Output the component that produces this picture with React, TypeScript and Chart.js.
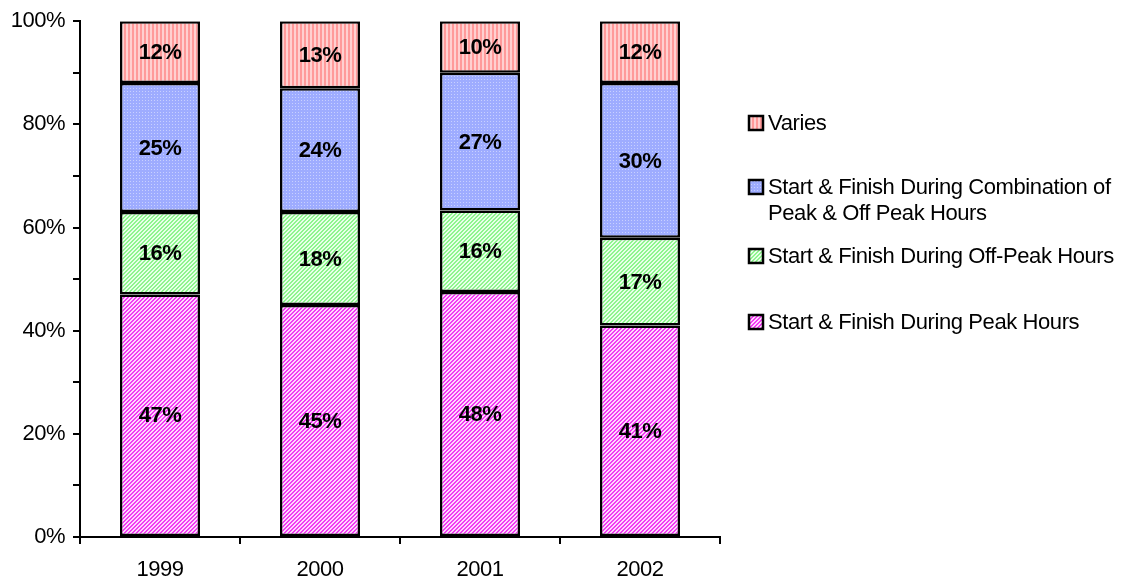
import React, { useEffect, useRef } from "react";
import { Chart, registerables } from "chart.js";

Chart.register(...registerables);

const years = ["1999", "2000", "2001", "2002"];
const peak = [47, 45, 47.5, 41];
const offPeak = [16, 18, 15.8, 17];
const combination = [25, 24, 26.7, 30];
const varies = [12, 13, 10, 12];
const yTickLabels = ["0%", "20%", "40%", "60%", "80%", "100%"];
const legendLabels = [
  ["Varies"],
  ["Start & Finish During Combination of", "Peak & Off Peak Hours"],
  ["Start & Finish During Off-Peak Hours"],
  ["Start & Finish During Peak Hours"],
];

const FONT = "'Liberation Sans', Arial, sans-serif";

function makePattern(kind: string): CanvasPattern | string {
  const c = document.createElement("canvas");
  const ctx = c.getContext("2d")!;
  if (kind === "peak") {
    c.width = 4; c.height = 4;
    for (let x = 0; x < 4; x++) for (let y = 0; y < 4; y++) {
      ctx.fillStyle = (x + y) % 4 < 2 ? "#f23cf2" : "#ffd6ff";
      ctx.fillRect(x, y, 1, 1);
    }
  } else if (kind === "off") {
    c.width = 4; c.height = 4;
    for (let x = 0; x < 4; x++) for (let y = 0; y < 4; y++) {
      ctx.fillStyle = (x + y) % 4 < 2 ? "#8ef58e" : "#e8ffe8";
      ctx.fillRect(x, y, 1, 1);
    }
  } else if (kind === "comb") {
    c.width = 3; c.height = 3;
    ctx.fillStyle = "#9eacff"; ctx.fillRect(0, 0, 3, 3);
    ctx.fillStyle = "#c8d0ff"; ctx.fillRect(1, 1, 1, 1);
  } else {
    c.width = 4; c.height = 1;
    ctx.fillStyle = "#ff9a9a"; ctx.fillRect(0, 0, 2, 1);
    ctx.fillStyle = "#ffd0d0"; ctx.fillRect(2, 0, 2, 1);
  }
  return ctx.createPattern(c, "repeat") || "#ccc";
}

export default function App() {
  const ref = useRef<HTMLCanvasElement>(null);
  useEffect(() => {
    const pPeak = makePattern("peak");
    const pOff = makePattern("off");
    const pComb = makePattern("comb");
    const pVar = makePattern("var");
    const fills = [pVar, pComb, pOff, pPeak];

    const spacingPlugin = {
      id: "spacing",
      beforeDraw(chart: any) {
        (chart.ctx as any).letterSpacing = "-0.5px";
      },
    };

    const labelsPlugin = {
      id: "barLabels",
      afterDatasetsDraw(chart: any) {
        const ctx = chart.ctx;
        ctx.save();
        ctx.letterSpacing = "-0.5px";
        ctx.font = `bold 22px ${FONT}`;
        ctx.fillStyle = "#000";
        ctx.textAlign = "center";
        ctx.textBaseline = "middle";
        chart.data.datasets.forEach((ds: any, di: number) => {
          const meta = chart.getDatasetMeta(di);
          meta.data.forEach((bar: any, i: number) => {
            const v = ds.data[i];
            const y = (bar.y + bar.base) / 2;
            ctx.fillText(Math.round(v) + "%", bar.x, y + 1);
          });
        });
        ctx.restore();
      },
    };

    const legendPlugin = {
      id: "customLegend",
      afterDraw(chart: any) {
        const ctx = chart.ctx;
        ctx.save();
        ctx.letterSpacing = "-0.4px";
        ctx.font = `22px ${FONT}`;
        ctx.textBaseline = "middle";
        ctx.textAlign = "left";
        const ys = [123, 187, 256, 322];
        legendLabels.forEach((lines, i) => {
          const y = ys[i];
          ctx.fillStyle = fills[i];
          ctx.fillRect(749, y - 7, 14, 14);
          ctx.strokeStyle = "#000";
          ctx.lineWidth = 2.5;
          ctx.strokeRect(749, y - 7, 14, 14);
          ctx.fillStyle = "#000";
          lines.forEach((t, j) => ctx.fillText(t, 768, y + 1 + j * 26));
        });
        ctx.restore();
      },
    };

    const chart = new Chart(ref.current!, {
      type: "bar",
      data: {
        labels: years,
        datasets: [
          { label: "Start & Finish During Peak Hours", data: peak, backgroundColor: pPeak },
          { label: "Start & Finish During Off-Peak Hours", data: offPeak, backgroundColor: pOff },
          { label: "Start & Finish During Combination of Peak & Off Peak Hours", data: combination, backgroundColor: pComb },
          { label: "Varies", data: varies, backgroundColor: pVar },
        ].map((d) => ({
          ...d,
          borderColor: "#000",
          borderWidth: 2.5,
          borderSkipped: false,
          barPercentage: 0.5,
          categoryPercentage: 1,
        })) as any,
      },
      options: {
        animation: false,
        responsive: false,
        layout: { padding: { top: 20, right: 405, left: 0, bottom: 0 } },
        plugins: { legend: { display: false }, tooltip: { enabled: false } },
        scales: {
          x: {
            stacked: true,
            border: { color: "#000", width: 2 },
            grid: { offset: true, drawOnChartArea: false, color: "#000", lineWidth: 2, tickLength: 7 },
            ticks: { color: "#000", font: { family: FONT, size: 22 }, padding: 13 },
            afterFit: (s: any) => { s.height = 47; },
          },
          y: {
            stacked: true,
            min: 0,
            max: 100,
            border: { color: "#000", width: 2 },
            grid: { drawOnChartArea: false, color: "#000", lineWidth: 2, tickLength: 7 },
            ticks: {
              stepSize: 10,
              color: "#000",
              font: { family: FONT, size: 22 },
              padding: 8,
              callback: (v: any) => (Number(v) % 20 === 0 ? yTickLabels[Number(v) / 20] : ""),
            },
            afterFit: (s: any) => { s.width = 80; },
          },
        },
      },
      plugins: [spacingPlugin, labelsPlugin, legendPlugin],
    });
    return () => chart.destroy();
  }, []);
  return (
    <div style={{ position: "fixed", left: 0, top: 0, width: 1125, height: 584, background: "#fff" }}>
      <canvas ref={ref} width={1125} height={584} />
    </div>
  );
}
